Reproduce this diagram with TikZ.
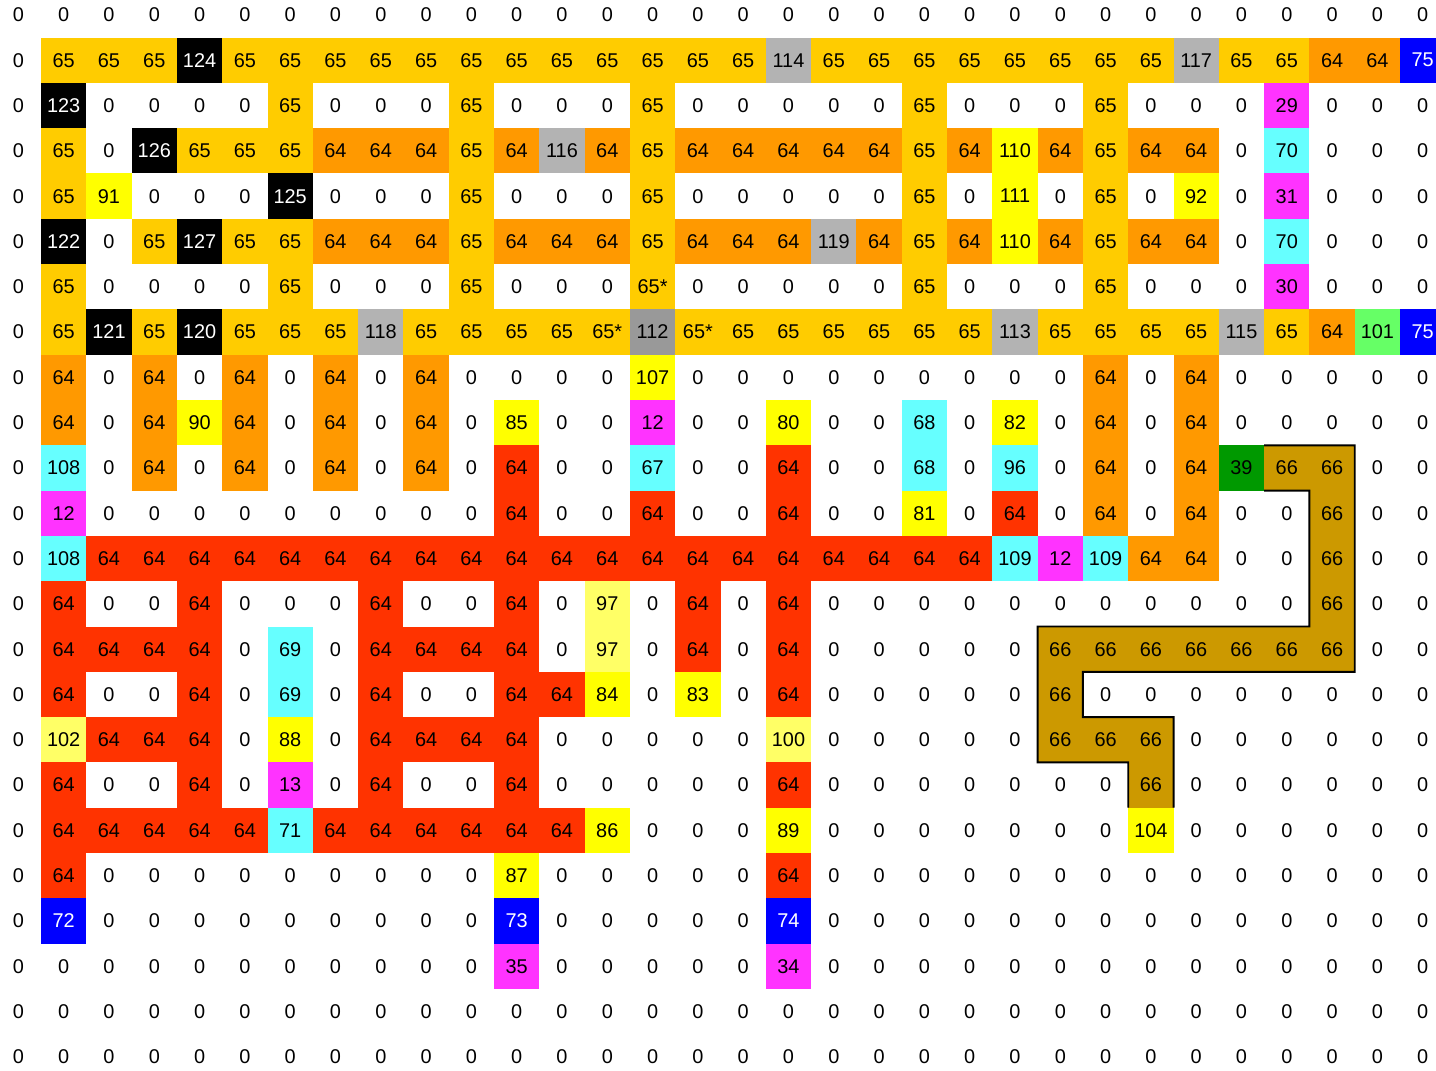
\documentclass[tikz,border=0pt]{standalone}
\usepackage{fontspec}
\setmainfont{Liberation Sans}
\usepackage{xcolor}
\usepackage{tikz}

\definecolor{gold}{HTML}{FFCC00}
\definecolor{orng}{HTML}{FF9900}
\definecolor{redo}{HTML}{FF3300}
\definecolor{lgray}{HTML}{B3B3B3}
\definecolor{dgray}{HTML}{999999}
\definecolor{mag}{HTML}{FF33FF}
\definecolor{cyn}{HTML}{66FFFF}
\definecolor{yel}{HTML}{FFFF00}
\definecolor{lyel}{HTML}{FFFF66}
\definecolor{lgrn}{HTML}{66FF66}
\definecolor{dgrn}{HTML}{009900}
\definecolor{ochre}{HTML}{CC9900}
\definecolor{pblue}{HTML}{0000FF}

% one row of the grid: column 0 is always 0, then columns 1..31 as value/style
\newcommand{\gridrow}[2]{%
  \node[cell] (n-0-#1) at (0,-#1) {0};
  \foreach \v/\s [count=\i from 1] in {#2}
    {\node[cell,v\s] (n-\i-#1) at (\i,-#1) {\v};}}

\begin{document}
\begin{tikzpicture}[
  cell/.style={minimum size=1cm,inner sep=0pt,outer sep=0pt,
    font=\fontsize{12.5}{15}\selectfont},
  vz/.style={}, vg/.style={fill=gold}, vo/.style={fill=orng},
  vr/.style={fill=redo}, vk/.style={fill=black,text=white},
  vs/.style={fill=lgray}, vp/.style={fill=dgray},
  vb/.style={fill=pblue,text=white}, vm/.style={fill=mag},
  vc/.style={fill=cyn}, vy/.style={fill=yel}, vl/.style={fill=lyel},
  ve/.style={fill=lgrn}, vd/.style={fill=dgrn}, vh/.style={fill=ochre},
  rim/.style={draw=black,line width=1.2pt}
]
\useasboundingbox[fill=white] (-0.406,0.330) rectangle (31.294,-23.31);

\foreach \r in {0,22,23}
  {\foreach \i in {0,...,31} {\node[cell] (n-\i-\r) at (\i,-\r) {0};}}

\gridrow{1}{65/g,65/g,65/g,124/k,65/g,65/g,65/g,65/g,65/g,65/g,
  65/g,65/g,65/g,65/g,65/g,65/g,114/s,65/g,65/g,65/g,
  65/g,65/g,65/g,65/g,65/g,117/s,65/g,65/g,64/o,64/o,75/b}
\gridrow{2}{123/k,0/z,0/z,0/z,0/z,65/g,0/z,0/z,0/z,65/g,
  0/z,0/z,0/z,65/g,0/z,0/z,0/z,0/z,0/z,65/g,
  0/z,0/z,0/z,65/g,0/z,0/z,0/z,29/m,0/z,0/z,0/z}
\gridrow{3}{65/g,0/z,126/k,65/g,65/g,65/g,64/o,64/o,64/o,65/g,
  64/o,116/s,64/o,65/g,64/o,64/o,64/o,64/o,64/o,65/g,
  64/o,110/y,64/o,65/g,64/o,64/o,0/z,70/c,0/z,0/z,0/z}
\gridrow{4}{65/g,91/y,0/z,0/z,0/z,125/k,0/z,0/z,0/z,65/g,
  0/z,0/z,0/z,65/g,0/z,0/z,0/z,0/z,0/z,65/g,
  0/z,111/y,0/z,65/g,0/z,92/y,0/z,31/m,0/z,0/z,0/z}
\gridrow{5}{122/k,0/z,65/g,127/k,65/g,65/g,64/o,64/o,64/o,65/g,
  64/o,64/o,64/o,65/g,64/o,64/o,64/o,119/s,64/o,65/g,
  64/o,110/y,64/o,65/g,64/o,64/o,0/z,70/c,0/z,0/z,0/z}
\gridrow{6}{65/g,0/z,0/z,0/z,0/z,65/g,0/z,0/z,0/z,65/g,
  0/z,0/z,0/z,65*/g,0/z,0/z,0/z,0/z,0/z,65/g,
  0/z,0/z,0/z,65/g,0/z,0/z,0/z,30/m,0/z,0/z,0/z}
\gridrow{7}{65/g,121/k,65/g,120/k,65/g,65/g,65/g,118/s,65/g,65/g,
  65/g,65/g,65*/g,112/p,65*/g,65/g,65/g,65/g,65/g,65/g,
  65/g,113/s,65/g,65/g,65/g,65/g,115/s,65/g,64/o,101/e,75/b}
\gridrow{8}{64/o,0/z,64/o,0/z,64/o,0/z,64/o,0/z,64/o,0/z,
  0/z,0/z,0/z,107/y,0/z,0/z,0/z,0/z,0/z,0/z,
  0/z,0/z,0/z,64/o,0/z,64/o,0/z,0/z,0/z,0/z,0/z}
\gridrow{9}{64/o,0/z,64/o,90/y,64/o,0/z,64/o,0/z,64/o,0/z,
  85/y,0/z,0/z,12/m,0/z,0/z,80/y,0/z,0/z,68/c,
  0/z,82/y,0/z,64/o,0/z,64/o,0/z,0/z,0/z,0/z,0/z}
\gridrow{10}{108/c,0/z,64/o,0/z,64/o,0/z,64/o,0/z,64/o,0/z,
  64/r,0/z,0/z,67/c,0/z,0/z,64/r,0/z,0/z,68/c,
  0/z,96/c,0/z,64/o,0/z,64/o,39/d,66/h,66/h,0/z,0/z}
\gridrow{11}{12/m,0/z,0/z,0/z,0/z,0/z,0/z,0/z,0/z,0/z,
  64/r,0/z,0/z,64/r,0/z,0/z,64/r,0/z,0/z,81/y,
  0/z,64/r,0/z,64/o,0/z,64/o,0/z,0/z,66/h,0/z,0/z}
\gridrow{12}{108/c,64/r,64/r,64/r,64/r,64/r,64/r,64/r,64/r,64/r,
  64/r,64/r,64/r,64/r,64/r,64/r,64/r,64/r,64/r,64/r,
  64/r,109/c,12/m,109/c,64/o,64/o,0/z,0/z,66/h,0/z,0/z}
\gridrow{13}{64/r,0/z,0/z,64/r,0/z,0/z,0/z,64/r,0/z,0/z,
  64/r,0/z,97/l,0/z,64/r,0/z,64/r,0/z,0/z,0/z,
  0/z,0/z,0/z,0/z,0/z,0/z,0/z,0/z,66/h,0/z,0/z}
\gridrow{14}{64/r,64/r,64/r,64/r,0/z,69/c,0/z,64/r,64/r,64/r,
  64/r,0/z,97/l,0/z,64/r,0/z,64/r,0/z,0/z,0/z,
  0/z,0/z,66/h,66/h,66/h,66/h,66/h,66/h,66/h,0/z,0/z}
\gridrow{15}{64/r,0/z,0/z,64/r,0/z,69/c,0/z,64/r,0/z,0/z,
  64/r,64/r,84/y,0/z,83/y,0/z,64/r,0/z,0/z,0/z,
  0/z,0/z,66/h,0/z,0/z,0/z,0/z,0/z,0/z,0/z,0/z}
\gridrow{16}{102/l,64/r,64/r,64/r,0/z,88/y,0/z,64/r,64/r,64/r,
  64/r,0/z,0/z,0/z,0/z,0/z,100/l,0/z,0/z,0/z,
  0/z,0/z,66/h,66/h,66/h,0/z,0/z,0/z,0/z,0/z,0/z}
\gridrow{17}{64/r,0/z,0/z,64/r,0/z,13/m,0/z,64/r,0/z,0/z,
  64/r,0/z,0/z,0/z,0/z,0/z,64/r,0/z,0/z,0/z,
  0/z,0/z,0/z,0/z,66/h,0/z,0/z,0/z,0/z,0/z,0/z}
\gridrow{18}{64/r,64/r,64/r,64/r,64/r,71/c,64/r,64/r,64/r,64/r,
  64/r,64/r,86/y,0/z,0/z,0/z,89/y,0/z,0/z,0/z,
  0/z,0/z,0/z,0/z,104/y,0/z,0/z,0/z,0/z,0/z,0/z}
\gridrow{19}{64/r,0/z,0/z,0/z,0/z,0/z,0/z,0/z,0/z,0/z,
  87/y,0/z,0/z,0/z,0/z,0/z,64/r,0/z,0/z,0/z,
  0/z,0/z,0/z,0/z,0/z,0/z,0/z,0/z,0/z,0/z,0/z}
\gridrow{20}{72/b,0/z,0/z,0/z,0/z,0/z,0/z,0/z,0/z,0/z,
  73/b,0/z,0/z,0/z,0/z,0/z,74/b,0/z,0/z,0/z,
  0/z,0/z,0/z,0/z,0/z,0/z,0/z,0/z,0/z,0/z,0/z}
\gridrow{21}{0/z,0/z,0/z,0/z,0/z,0/z,0/z,0/z,0/z,0/z,
  35/m,0/z,0/z,0/z,0/z,0/z,34/m,0/z,0/z,0/z,
  0/z,0/z,0/z,0/z,0/z,0/z,0/z,0/z,0/z,0/z,0/z}

% outline of the 66 band
\draw[rim] (n-28-10.south west) -- (n-28-10.south east) -- (n-28-13.south east)
  -- (n-23-14.north west) -- (n-23-16.south west) -- (n-25-17.north west)
  -- (n-25-17.south west);
\draw[rim] (n-28-10.north west) -- (n-29-10.north east) -- (n-29-14.south east)
  -- (n-23-14.south east) -- (n-23-15.south east) -- (n-25-16.north east)
  -- (n-25-17.south east);
\end{tikzpicture}
\end{document}
